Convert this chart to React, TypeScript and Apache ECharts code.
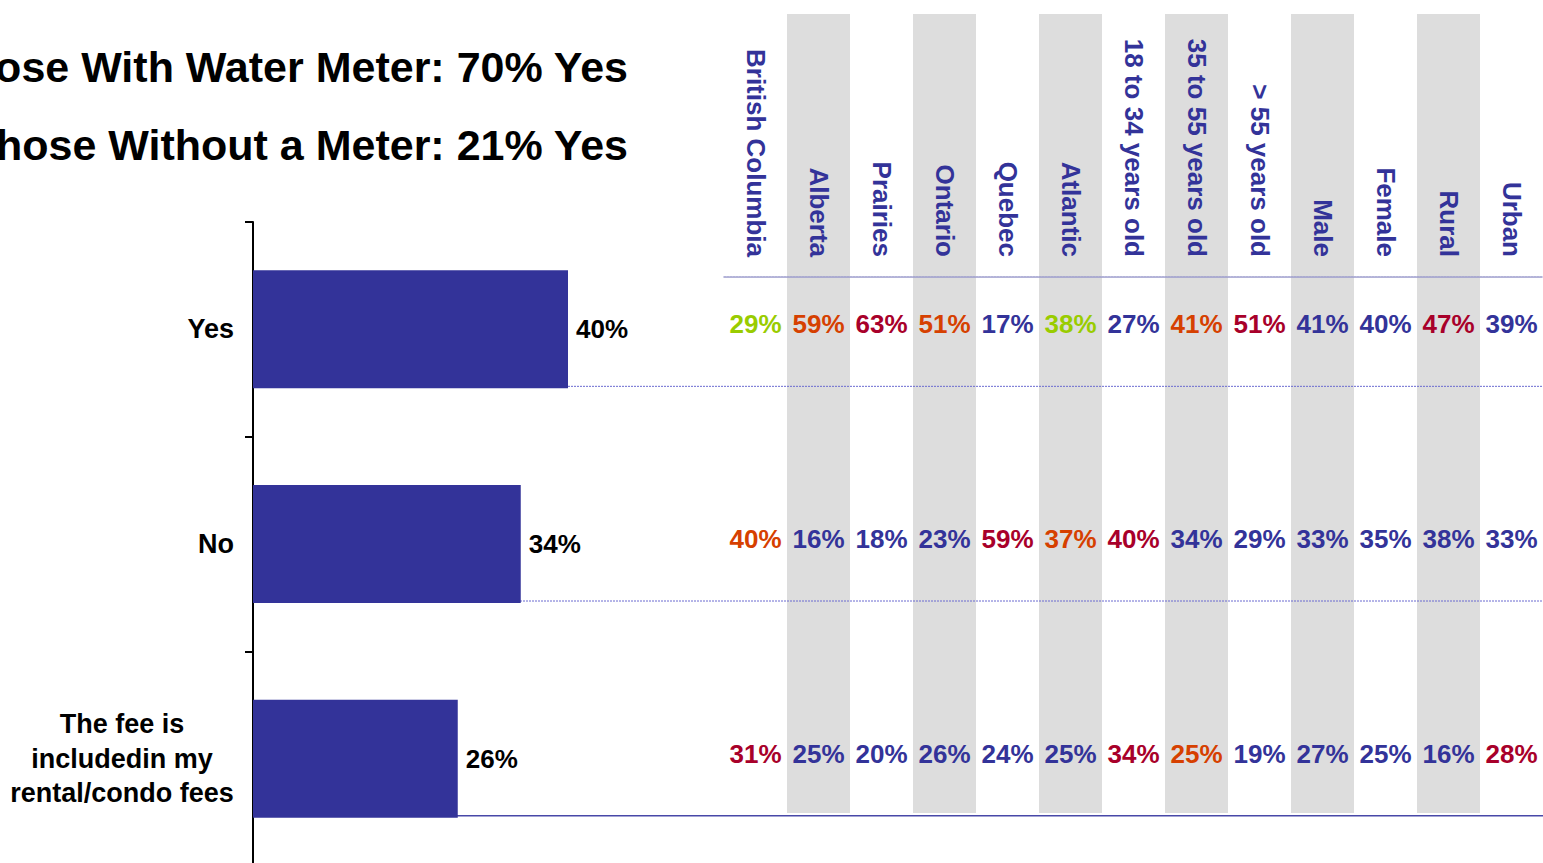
import React, { useEffect, useRef } from "react";
import * as echarts from "echarts";

// ---- data ----
const answers = ["Yes", "No", "The fee is\nincludedin my\nrental/condo fees"];
const totals = [40, 34, 26];
const segments = [
  "British Columbia", "Alberta", "Prairies", "Ontario", "Quebec", "Atlantic",
  "18 to 34 years old", "35 to 55 years old", "> 55 years old",
  "Male", "Female", "Rural", "Urban",
];
const yesBySegment = [29, 59, 63, 51, 17, 38, 27, 41, 51, 41, 40, 47, 39];
const noBySegment = [40, 16, 18, 23, 59, 37, 40, 34, 29, 33, 35, 38, 33];
const feeBySegment = [31, 25, 20, 26, 24, 25, 34, 25, 19, 27, 25, 16, 28];
// highlight codes per cell: g = green, o = orange, r = red, b = neutral
const yesMarks = ["g", "o", "r", "o", "b", "g", "b", "o", "r", "b", "b", "r", "b"];
const noMarks = ["o", "b", "b", "b", "r", "o", "r", "b", "b", "b", "b", "b", "b"];
const feeMarks = ["r", "b", "b", "b", "b", "b", "r", "o", "b", "b", "b", "b", "r"];
const titleLines = ["Those With Water Meter: 70% Yes", "Those Without a Meter: 21% Yes"];

const FONT = "'Liberation Sans', Arial, Helvetica, sans-serif";
const NAVY = "#333399";
const markColor: Record<string, string> = {
  g: "#99CC00",
  o: "#D64000",
  r: "#A8002A",
  b: NAVY,
};

export default function App() {
  const ref = useRef<HTMLDivElement>(null);

  useEffect(() => {
    const el = ref.current!;
    const chart = echarts.init(el, null, { renderer: "svg" });

    const rows = [yesBySegment, noBySegment, feeBySegment];
    const marks = [yesMarks, noMarks, feeMarks];
    const cells: any[] = [];
    rows.forEach((row, r) =>
      row.forEach((v, c) =>
        cells.push({ value: [c, r, v], label: { color: markColor[marks[r][c]] } })
      )
    );

    const option: any = {
      animation: false,
      textStyle: { fontFamily: FONT },
      grid: [
        { left: 253, top: 222, width: 787.5, height: 644, containLabel: false, outerBoundsMode: "none" },
        { left: 724, top: 222, width: 819, height: 644, containLabel: false, outerBoundsMode: "none" },
      ],
      xAxis: [
        { type: "value", gridIndex: 0, min: 0, max: 100, show: false },
        {
          type: "category",
          gridIndex: 1,
          data: segments,
          position: "top",
          offset: -55,
          z: 3,
          axisLine: { show: true, lineStyle: { color: "#9A9ACC", width: 1.5, type: [2, 1] } },
          axisTick: { show: false },
          splitLine: { show: false },
          axisLabel: {
            show: true,
            interval: 0,
            rotate: 90,
            margin: 20,
            color: NAVY,
            fontSize: 26,
            fontWeight: "bold",
            fontFamily: FONT,
          },
        },
      ],
      yAxis: [
        {
          type: "category",
          gridIndex: 0,
          data: answers,
          inverse: true,
          axisLine: { show: true, lineStyle: { color: "#000", width: 2 } },
          axisTick: { show: true, length: 8, lineStyle: { color: "#000", width: 2 } },
          splitLine: { show: false },
          axisLabel: {
            show: true,
            interval: 0,
            margin: 19,
            color: "#000",
            fontSize: 27,
            fontWeight: "bold",
            fontFamily: FONT,
            formatter: (v: string) =>
              v.indexOf("\n") >= 0
                ? v.split("\n").map((l) => `{m|${l}}`).join("\n")
                : v,
            rich: {
              m: {
                width: 224,
                align: "center",
                lineHeight: 34.5,
                fontSize: 27,
                fontWeight: "bold",
                color: "#000",
                fontFamily: FONT,
              },
            },
          },
        },
        { type: "category", gridIndex: 1, data: answers, inverse: true, show: false },
      ],
      series: [
        {
          type: "bar",
          xAxisIndex: 0,
          yAxisIndex: 0,
          data: totals,
          barWidth: 118,
          z: 3,
          itemStyle: { color: NAVY },
          label: {
            show: true,
            position: "right",
            distance: 8,
            formatter: "{c}%",
            color: "#000",
            fontSize: 26,
            fontWeight: "bold",
            fontFamily: FONT,
          },
        },
        {
          type: "scatter",
          xAxisIndex: 1,
          yAxisIndex: 1,
          data: cells,
          symbolSize: 0,
          z: 4,
          itemStyle: { color: "rgba(0,0,0,0)", opacity: 1 },
          label: {
            show: true,
            position: "inside",
            offset: [0, -5],
            formatter: (p: any) => p.value[2] + "%",
            fontSize: 26,
            fontWeight: "bold",
            fontFamily: FONT,
            opacity: 1,
          },
        },
      ],
    };

    chart.setOption(option);

    // decorations positioned from the library's own axes
    const x0 = chart.convertToPixel({ xAxisIndex: 1 }, 0) as number;
    const x1 = chart.convertToPixel({ xAxisIndex: 1 }, 1) as number;
    const band = x1 - x0;
    const tableRight = (chart.convertToPixel({ xAxisIndex: 1 }, segments.length - 1) as number) + band / 2;
    const barLeft = chart.convertToPixel({ xAxisIndex: 0 }, 0) as number;

    const graphics: any[] = [];
    segments.forEach((_, i) => {
      if (i % 2 === 1) {
        const cx = chart.convertToPixel({ xAxisIndex: 1 }, i) as number;
        graphics.push({
          type: "rect",
          z: 0,
          silent: true,
          shape: { x: cx - band / 2, y: 14, width: band, height: 799 },
          style: { fill: "#DDDDDD" },
        });
      }
    });
    answers.forEach((_, r) => {
      const cy = (chart.convertToPixel({ yAxisIndex: 0 }, r) as number) + 57;
      const last = r === answers.length - 1;
      graphics.push({
        type: "line",
        z: 1,
        silent: true,
        shape: { x1: barLeft, y1: cy, x2: tableRight, y2: cy },
        style: last
          ? { stroke: "#4848A8", lineWidth: 1.5 }
          : { stroke: "#6A6AD0", lineWidth: 1, lineDash: [2, 1] },
      });
    });
    titleLines.forEach((t, i) => {
      graphics.push({
        type: "text",
        z: 5,
        style: {
          text: t,
          x: 628,
          y: 67 + i * 78,
          align: "right",
          textAlign: "right",
          verticalAlign: "middle",
          textVerticalAlign: "middle",
          fill: "#000",
          fontSize: 43,
          fontWeight: "bold",
          fontFamily: FONT,
        },
      });
    });

    chart.setOption({ graphic: graphics });

    return () => {
      chart.dispose();
    };
  }, []);

  return (
    <div
      ref={ref}
      style={{ position: "absolute", left: 0, top: 0, width: 1543, height: 863 }}
    />
  );
}
